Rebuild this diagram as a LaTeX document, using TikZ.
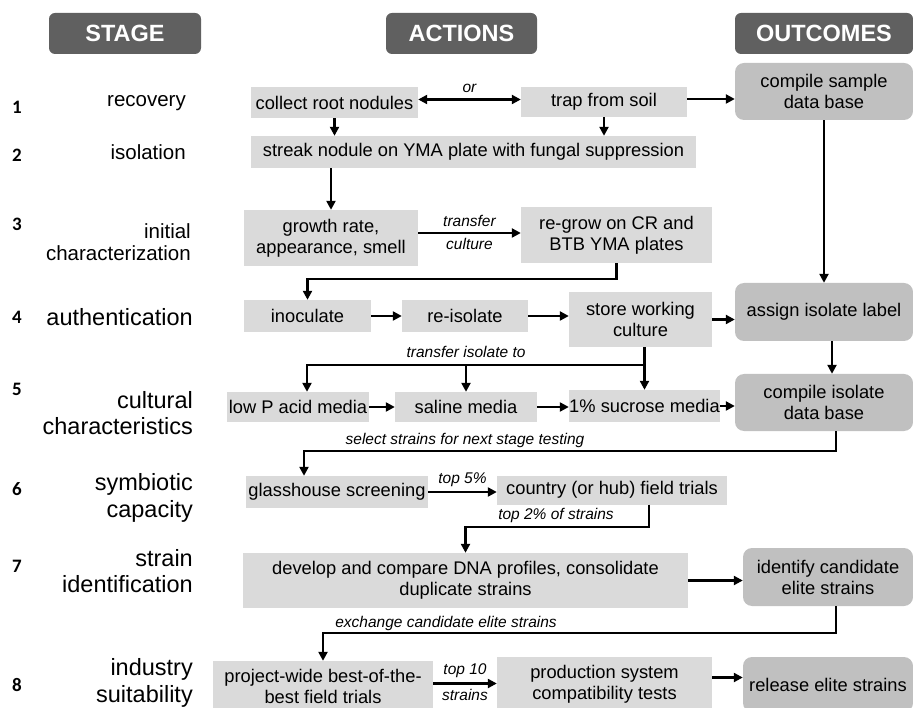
\documentclass[tikz,border=0pt]{standalone}
\usepackage{fontspec}
\setmainfont{Liberation Sans}
\newfontfamily\numfont{Carlito}
\usetikzlibrary{arrows.meta}
\definecolor{headgray}{HTML}{606060}
\definecolor{actgray}{HTML}{DADADA}
\definecolor{outgray}{HTML}{C0C0C0}

\begin{document}
\begin{tikzpicture}[x=1pt, y=-1pt, >={Triangle[length=9pt,width=9pt]},
    head/.style={fill=headgray, rounded corners=6pt, text=white, inner sep=0pt,
      font=\fontsize{23.5}{26}\selectfont\bfseries},
    act/.style={fill=actgray, inner sep=0pt, align=center,
      font=\fontsize{18.3}{21}\selectfont},
    outbox/.style={act, fill=outgray, rounded corners=9pt},
    stg/.style={anchor=east, align=right, inner sep=0pt,
      font=\fontsize{23.5}{26.5}\selectfont},
    stgsmall/.style={stg, font=\fontsize{20.5}{22.5}\selectfont},
    num/.style={inner sep=0pt, font=\fontsize{19}{21}\numfont\bfseries},
    lbl/.style={inner sep=0pt, font=\fontsize{15.5}{17}\selectfont\itshape},
    arr/.style={->, line width=2.3pt}]
  \useasboundingbox (0,0) rectangle (913,708);

  % headers
  \node[head, minimum width=152pt, minimum height=41pt] (hstage) at (125,33.5) {STAGE};
  \node[head, minimum width=151pt, minimum height=41pt] (hact) at (461.5,33.5) {ACTIONS};
  \node[head, minimum width=178pt, minimum height=41pt] (hout) at (824,33.5) {OUTCOMES};

  % stage column
  \node[num] (n1) at (17,107) {1};
  \node[num] (n2) at (17,155) {2};
  \node[num] (n3) at (17,224) {3};
  \node[num] (n4) at (17,317) {4};
  \node[num] (n5) at (17,389) {5};
  \node[num] (n6) at (17,489) {6};
  \node[num] (n7) at (17,566) {7};
  \node[num] (n8) at (17,685) {8};
  \node[stgsmall] (s1) at (186,103) {recovery};
  \node[stgsmall] (s2) at (186,152) {isolation};
  \node[stgsmall] (s3) at (191,242) {initial\\characterization};
  \node[stg] (s4) at (193,317) {authentication};
  \node[stg] (s5) at (193,413) {cultural\\characteristics};
  \node[stg] (s6) at (193,498) {symbiotic\\capacity};
  \node[stg] (s7) at (193,571) {strain\\identification};
  \node[stg] (s8) at (193,683) {industry\\suitability};

  % actions
  \node[act, minimum width=167pt, minimum height=31pt] (collect) at (334.5,102.5) {collect root nodules};
  \node[act, minimum width=166pt, minimum height=30pt] (trap) at (604,102) {trap from soil};
  \node[act, minimum width=445pt, minimum height=32pt] (streak) at (473.5,152) {streak nodule on YMA plate with fungal suppression};
  \node[act, minimum width=174pt, minimum height=56pt] (growth) at (331,238) {growth rate,\\appearance, smell};
  \node[act, minimum width=191pt, minimum height=56pt] (regrow) at (616.5,235) {re-grow on CR and\\BTB YMA plates};
  \node[act, minimum width=127pt, minimum height=32pt] (inoc) at (307.5,316) {inoculate};
  \node[act, minimum width=126pt, minimum height=32pt] (reiso) at (465,316) {re-isolate};
  \node[act, minimum width=143pt, minimum height=55pt] (store) at (640.5,319.5) {store working\\culture};
  \node[act, minimum width=142pt, minimum height=30pt] (lowp) at (298,407) {low P acid media};
  \node[act, minimum width=142pt, minimum height=30pt] (saline) at (466,407) {saline media};
  \node[act, minimum width=151pt, minimum height=32pt] (sucrose) at (644.5,406) {1\% sucrose media};
  \node[act, minimum width=182pt, minimum height=32pt] (glass) at (337,492) {glasshouse screening};
  \node[act, minimum width=230pt, minimum height=29pt] (country) at (612,490) {country (or hub) field trials};
  \node[act, minimum width=445pt, minimum height=55pt] (develop) at (465.5,580.5) {develop and compare DNA profiles, consolidate\\duplicate strains};
  \node[act, minimum width=220pt, minimum height=51pt] (project) at (323,686.5) {project-wide best-of-the-\\best field trials};
  \node[act, minimum width=215pt, minimum height=55pt] (product) at (604.5,684.5) {production system\\compatibility tests};

  % outcomes
  \node[outbox, minimum width=178pt, minimum height=57pt] (sample) at (824,91.5) {compile sample\\data base};
  \node[outbox, minimum width=178pt, minimum height=58pt] (label) at (824,312) {assign isolate label};
  \node[outbox, minimum width=178pt, minimum height=57pt] (isodb) at (824,402.5) {compile isolate\\data base};
  \node[outbox, minimum width=170pt, minimum height=58pt] (elite) at (828,577) {identify candidate\\elite strains};
  \node[outbox, minimum width=170pt, minimum height=55pt] (release) at (828,684.5) {release elite strains};

  % connectors
  \draw[arr, <->] ([yshift=3pt]collect.east) -- ([yshift=3pt]collect.east -| trap.west)
    node[lbl, midway, above=6pt] (or) {or};
  \draw[arr] ([yshift=3pt]trap.east) -- ([yshift=3pt]trap.east -| sample.west);
  \draw[arr] (collect.south) -- (collect.south |- streak.north);
  \draw[arr] (trap.south) -- (trap.south |- streak.north);
  \draw[arr] (growth.north |- streak.south) -- (growth.north);
  \draw[arr] ([yshift=5pt]growth.east) -- ([yshift=5pt]growth.east -| regrow.west)
    node[lbl, midway, above=5pt] (ltransfer) {transfer}
    node[lbl, midway, below=4pt] (lculture) {culture};
  \draw[arr] (sample.south) -- (label.north);
  \draw[arr] (regrow.south) -- ++(0,16) -| (inoc.north);
  \draw[arr] (inoc.east) -- (inoc.east -| reiso.west);
  \draw[arr] (reiso.east) -- (reiso.east -| store.west);
  \draw[arr] (store.east) -- (store.east -| label.west);
  \draw[arr] ([xshift=8pt]label.south) -- ([xshift=8pt]label.south |- isodb.north);

  \coordinate (tbus) at (644,365);
  \node[lbl] (ltiso) at (466,352) {transfer isolate to};
  \draw[arr] (sucrose.north |- store.south) -- (sucrose.north);
  \draw[arr] (tbus) -| ([xshift=9pt]lowp.north);
  \draw[arr] (saline.north |- tbus) -- (saline.north);
  \draw[arr] (lowp.east) -- (lowp.east -| saline.west);
  \draw[arr] (saline.east) -- (saline.east -| sucrose.west);
  \draw[arr] (sucrose.east) -- (sucrose.east -| isodb.west);

  \node[lbl] (lselect) at (465,440) {select strains for next stage testing};
  \draw[arr] ([xshift=12pt]isodb.south) -- ++(0,20) -| ([xshift=-33pt]glass.north);
  \draw[arr] (glass.east) -- (glass.east -| country.west)
    node[lbl, midway, above=4pt] (ltop5) {top 5\%};

  \node[lbl] (ltop2) at (556,515) {top 2\% of strains};
  \draw[arr] ([xshift=37pt]country.south) -- ++(0,22) -| (develop.north);
  \draw[arr] (develop.east) -- (develop.east -| elite.west);

  \node[lbl] (lexch) at (446,623) {exchange candidate elite strains};
  \draw[arr] ([xshift=8pt]elite.south) -- ++(0,27) -| (project.north);
  \draw[arr] ([yshift=3pt]project.east) -- ([yshift=3pt]project.east -| product.west)
    node[lbl, midway, above=5pt] (ltop10) {top 10}
    node[lbl, midway, below=5pt] (lstrains) {strains};
  \draw[arr] ([yshift=7pt]product.east) -- ([yshift=7pt]product.east -| release.west);
\end{tikzpicture}
\end{document}
